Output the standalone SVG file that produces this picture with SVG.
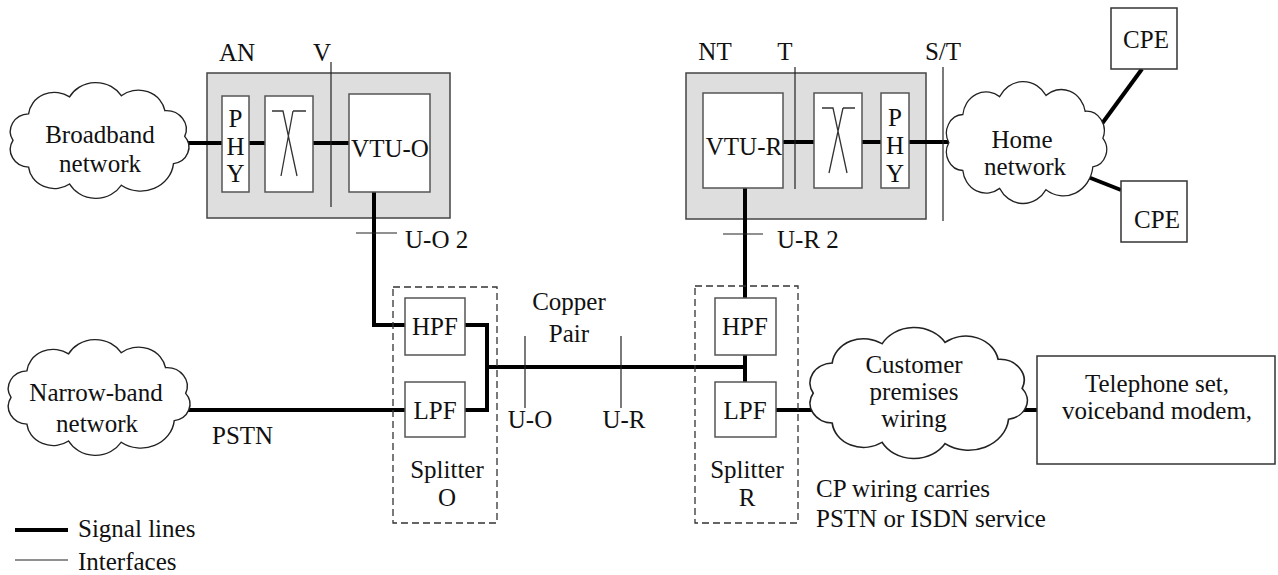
<svg xmlns="http://www.w3.org/2000/svg" xmlns:xlink="http://www.w3.org/1999/xlink" width="1278" height="575" viewBox="0 0 1278 575" font-family="Liberation Serif, DejaVu Serif, serif">
<style>
text{font-family:'Liberation Serif','DejaVu Serif',serif;font-size:25px;fill:#111}
.m{text-anchor:middle}
.sig{stroke:#000;stroke-width:4;fill:none;stroke-linejoin:miter}
.ifc{stroke:#222;stroke-width:1.2;fill:none}
.box{fill:#fff;stroke:#555;stroke-width:1.5}
.obox{fill:#fff;stroke:#333;stroke-width:1.5}
.gbox{fill:#dedede;stroke:#444;stroke-width:1.5}
.dash{fill:none;stroke:#333;stroke-width:1.3;stroke-dasharray:7 4}
.cloud{fill:#fff;stroke:#222;stroke-width:1.4;vector-effect:non-scaling-stroke}
.glyph{fill:none;stroke:#333;stroke-width:1.3}
</style>
<defs>
<path id="cl" d="M14,65 A19,19 0 0 1 29.6,36.3 A26,26 0 0 1 70.6,18 A30,30 0 0 1 122.3,16.7 A27,27 0 0 1 165.9,32.9 A20,20 0 0 1 185.7,60.6 A18,18 0 0 1 174.5,90 A33,33 0 0 1 122.3,113.3 A30,30 0 0 1 70.6,112 A26,26 0 0 1 29.6,93.7 A19,19 0 0 1 14,65 Z"/>
</defs>

<g id="an">
<rect class="gbox" x="207" y="73" width="243" height="145"/>
<text class="m" x="237" y="61">AN</text>
</g>
<g id="nt">
<rect class="gbox" x="686" y="73" width="240" height="146"/>
<text class="m" x="715" y="60">NT</text>
</g>

<g id="connectors">
<line class="sig" x1="180" y1="143" x2="222" y2="143"/>
<line class="sig" x1="249" y1="143" x2="265" y2="143"/>
<line class="sig" x1="313" y1="143" x2="349" y2="143"/>
<polyline class="sig" points="374,192 374,325 405,325"/>
<polyline class="sig" points="465,325 487,325 487,410 465,410"/>
<line class="sig" x1="487" y1="367" x2="745" y2="367"/>
<line class="sig" x1="180" y1="410" x2="405" y2="410"/>
<line class="sig" x1="745" y1="188" x2="745" y2="298"/>
<line class="sig" x1="745" y1="355" x2="745" y2="382"/>
<line class="sig" x1="776" y1="410" x2="825" y2="410"/>
<line class="sig" x1="1015" y1="410" x2="1037" y2="410"/>
<line class="sig" x1="783" y1="142" x2="814" y2="142"/>
<line class="sig" x1="862" y1="142" x2="881" y2="142"/>
<line class="sig" x1="909" y1="142" x2="958" y2="142"/>
<line class="sig" x1="1090" y1="140" x2="1142" y2="69"/>
<line class="sig" x1="1088" y1="177" x2="1121" y2="190"/>
</g>

<g id="phy-o">
<rect class="box" x="222" y="96" width="27" height="96"/>
<text class="m" x="235.5" y="127">P</text>
<text class="m" x="235.5" y="155">H</text>
<text class="m" x="235.5" y="182">Y</text>
</g>
<g id="xc-o">
<rect class="box" x="265" y="96" width="48" height="96"/>
<path class="glyph" d="M272,111 H283 L297,176 M293,111 H306 M293,111 L281,176"/>
</g>
<g id="vtu-o">
<rect class="box" x="349" y="94" width="81" height="98"/>
<text class="m" x="390" y="157">VTU-O</text>
</g>

<g id="vtu-r">
<rect class="box" x="703" y="93" width="80" height="95"/>
<text class="m" x="744" y="155">VTU-R</text>
</g>
<g id="xc-r">
<rect class="box" x="814" y="93" width="48" height="95"/>
<path class="glyph" d="M822,108 H833 L847,173 M843,108 H855 M843,108 L829,173"/>
</g>
<g id="phy-r">
<rect class="box" x="881" y="93" width="28" height="95"/>
<text class="m" x="895" y="126">P</text>
<text class="m" x="895" y="154">H</text>
<text class="m" x="895" y="182">Y</text>
</g>

<g id="broadband">
<use xlink:href="#cl" class="cloud" transform="translate(-1,80.2) scale(1,0.927)"/>
<text class="m" x="100" y="143">Broadband</text>
<text class="m" x="100" y="172">network</text>
</g>
<g id="narrowband">
<use xlink:href="#cl" class="cloud" transform="translate(-3.2,337.2) scale(1.017,0.927)"/>
<text class="m" x="96" y="401">Narrow-band</text>
<text class="m" x="97" y="432">network</text>
</g>
<g id="home">
<use xlink:href="#cl" class="cloud" transform="translate(936.3,79.1) scale(0.897,0.976)"/>
<text class="m" x="1022" y="148">Home</text>
<text class="m" x="1025" y="175">network</text>
</g>
<g id="cpwiring">
<use xlink:href="#cl" class="cloud" transform="translate(796.2,324.9) scale(1.217,1.048)"/>
<text class="m" x="914" y="373">Customer</text>
<text class="m" x="914" y="400">premises</text>
<text class="m" x="914" y="427">wiring</text>
</g>

<g id="cpe1">
<rect class="obox" x="1111" y="8" width="66" height="61"/>
<text class="m" x="1146" y="48">CPE</text>
</g>
<g id="cpe2">
<rect class="obox" x="1121" y="181" width="66" height="61"/>
<text class="m" x="1157" y="228">CPE</text>
</g>
<g id="telephone">
<rect class="obox" x="1037" y="356" width="238" height="108"/>
<text class="m" x="1157" y="392">Telephone set,</text>
<text class="m" x="1157" y="419">voiceband modem,</text>
</g>

<g id="splitter-o">
<rect class="dash" x="393" y="287" width="104" height="236"/>
<text class="m" x="447" y="478">Splitter</text>
<text class="m" x="447" y="506">O</text>
</g>
<g id="hpf-o">
<rect class="box" x="405" y="298" width="60" height="57"/>
<text class="m" x="435" y="335">HPF</text>
</g>
<g id="lpf-o">
<rect class="box" x="405" y="382" width="60" height="55"/>
<text class="m" x="435" y="419">LPF</text>
</g>
<g id="splitter-r">
<rect class="dash" x="695" y="286" width="103" height="237"/>
<text class="m" x="747" y="478">Splitter</text>
<text class="m" x="747" y="506">R</text>
</g>
<g id="hpf-r">
<rect class="box" x="715" y="298" width="61" height="57"/>
<text class="m" x="745" y="335">HPF</text>
</g>
<g id="lpf-r">
<rect class="box" x="715" y="382" width="61" height="55"/>
<text class="m" x="745" y="419">LPF</text>
</g>

<g id="interfaces">
<line class="ifc" x1="331" y1="62" x2="331" y2="207"/>
<text class="m" x="322" y="61">V</text>
<line class="ifc" x1="795" y1="67" x2="795" y2="189"/>
<text class="m" x="785" y="60">T</text>
<line class="ifc" x1="943" y1="67" x2="943" y2="221"/>
<text class="m" x="943" y="60">S/T</text>
<line class="ifc" x1="356" y1="233" x2="397" y2="233"/>
<text x="405" y="248">U-O 2</text>
<line class="ifc" x1="723" y1="234" x2="763" y2="234"/>
<text x="777" y="248">U-R 2</text>
<line class="ifc" x1="525" y1="336" x2="525" y2="408"/>
<text class="m" x="530" y="428">U-O</text>
<line class="ifc" x1="621" y1="336" x2="621" y2="408"/>
<text class="m" x="624" y="428">U-R</text>
</g>

<g id="labels">
<text class="m" x="569" y="310">Copper</text>
<text class="m" x="569" y="342">Pair</text>
<text x="212" y="444">PSTN</text>
<text x="816" y="497">CP wiring carries</text>
<text x="816" y="527">PSTN or ISDN service</text>
</g>

<g id="legend">
<line class="sig" x1="15" y1="530" x2="68" y2="530"/>
<text x="78" y="537">Signal lines</text>
<line class="ifc" x1="15" y1="560" x2="68" y2="560"/>
<text x="78" y="570">Interfaces</text>
</g>
</svg>
